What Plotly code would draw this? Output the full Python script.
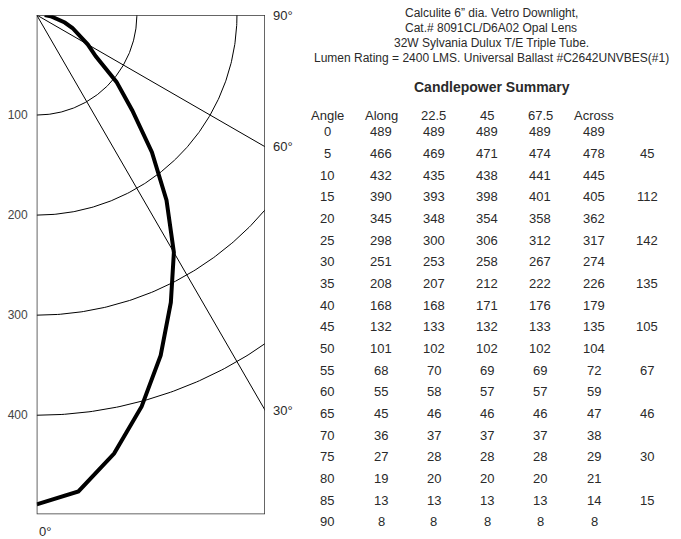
import numpy as np
import plotly.graph_objects as go

# ---------------- data ----------------
angles = [0, 5, 10, 15, 20, 25, 30, 35, 40, 45, 50, 55, 60, 65, 70, 75, 80, 85, 90]
along = [489, 466, 432, 390, 345, 298, 251, 208, 168, 132, 101, 68, 55, 45, 36, 27, 19, 13, 8]
plane_22_5 = [489, 469, 435, 393, 348, 300, 253, 207, 168, 133, 102, 70, 58, 46, 37, 28, 20, 13, 8]
plane_45 = [489, 471, 438, 398, 354, 306, 258, 212, 171, 132, 102, 69, 57, 46, 37, 28, 20, 13, 8]
plane_67_5 = [489, 474, 441, 401, 358, 312, 267, 222, 176, 133, 102, 69, 57, 46, 37, 28, 20, 13, 8]
across = [489, 478, 445, 405, 362, 317, 274, 226, 179, 135, 104, 72, 59, 47, 38, 29, 21, 14, 8]
zonal = ["", 45, "", 112, "", 142, "", 135, "", 105, "", 67, "", 46, "", 30, "", 15, ""]

headers = ["Angle", "Along", "22.5", "45", "67.5", "Across", ""]
grid_radii = [100, 200, 300, 400]
grid_angles = [30, 60]
angle_labels = [90, 60, 30, 0]
title_lines = [
    "Calculite 6” dia. Vetro Downlight,",
    "Cat.# 8091CL/D6A02 Opal Lens",
    "32W Sylvania Dulux T/E Triple Tube.",
    "Lumen Rating = 2400 LMS. Universal Ballast #C2642UNVBES(#1)",
]
table_title = "Candlepower Summary"

# ---------------- layout constants ----------------
W, H = 681, 539
X_MAX, Y_MAX = 228, 499
FONT = "Liberation Sans, Arial, sans-serif"
TXT = "#2a2a2a"


def px(x):
    return x / W


def py(y):
    return 1 - y / H


fig = go.Figure()

# grid arcs
for r in grid_radii:
    t = np.radians(np.linspace(0, 90, 181))
    fig.add_trace(go.Scatter(x=r * np.sin(t), y=r * np.cos(t), mode="lines",
                             line=dict(color="black", width=1), hoverinfo="skip",
                             showlegend=False))
# radial lines
for a in grid_angles:
    t = np.radians(a)
    fig.add_trace(go.Scatter(x=[0, 800 * np.sin(t)], y=[0, 800 * np.cos(t)], mode="lines",
                             line=dict(color="black", width=1), hoverinfo="skip",
                             showlegend=False))

# candlepower curve
th = np.radians(np.array(angles))
cd = np.array(across)
fig.add_trace(go.Scatter(x=cd * np.sin(th), y=cd * np.cos(th), mode="lines",
                         line=dict(color="black", width=4), showlegend=False))

# frame
fig.add_shape(type="rect", xref="x", yref="y", x0=0, x1=X_MAX, y0=0, y1=Y_MAX,
              line=dict(color="#333333", width=1.5), layer="above")

# angle labels
for a in angle_labels:
    if a == 0:
        fig.add_annotation(x=0, y=Y_MAX, xref="x", yref="y", text=f"{a}°",
                           showarrow=False, xanchor="left", yanchor="middle",
                           yshift=-17, font=dict(family=FONT, size=13, color=TXT))
    else:
        yv = X_MAX / np.tan(np.radians(a)) if a != 90 else 0
        fig.add_annotation(x=X_MAX, y=yv, xref="x", yref="y", text=f"{a}°",
                           showarrow=False, xanchor="left", yanchor="middle",
                           xshift=6, font=dict(family=FONT, size=13, color=TXT))

# title text
for i, line in enumerate(title_lines):
    fig.add_annotation(x=px(491), y=py(13 + 15 * i), xref="paper", yref="paper",
                       text=line, showarrow=False, xanchor="center", yanchor="middle",
                       font=dict(family=FONT, size=12, color=TXT))
fig.add_annotation(x=px(492), y=py(87), xref="paper", yref="paper",
                   text=f"<b>{table_title}</b>", showarrow=False, xanchor="center",
                   yanchor="middle", font=dict(family=FONT, size=14, color=TXT))

# table
col_x = [327, 381, 434, 487, 540, 594, 647]
for j, h in enumerate(headers):
    if h:
        fig.add_annotation(x=px(col_x[j]), y=py(115), xref="paper", yref="paper",
                           text=h, showarrow=False, xanchor="center", yanchor="middle",
                           font=dict(family=FONT, size=13, color=TXT))
columns = [angles, along, plane_22_5, plane_45, plane_67_5, across, zonal]
for i in range(len(angles)):
    yy = 131.7 + i * 21.67
    for j, col in enumerate(columns):
        v = col[i]
        if v == "":
            continue
        fig.add_annotation(x=px(col_x[j]), y=py(yy), xref="paper", yref="paper",
                           text=str(v), showarrow=False, xanchor="center", yanchor="middle",
                           font=dict(family=FONT, size=13, color=TXT))

fig.update_layout(
    width=W, height=H, margin=dict(l=0, r=0, t=0, b=0),
    paper_bgcolor="white", plot_bgcolor="white", showlegend=False,
    xaxis=dict(domain=[px(36.7), px(265)], range=[0, X_MAX], showgrid=False,
               zeroline=False, showticklabels=False, ticks="", fixedrange=True),
    yaxis=dict(domain=[py(514.3), py(15)], range=[Y_MAX, 0], showgrid=False,
               zeroline=False, tickvals=grid_radii, ticks="", ticklabelstandoff=8,
               tickfont=dict(family=FONT, size=12, color="#444444"), fixedrange=True),
)

fig.write_html("out.html", config={"displayModeBar": False},
               post_script="document.body.style.margin='0px';")
